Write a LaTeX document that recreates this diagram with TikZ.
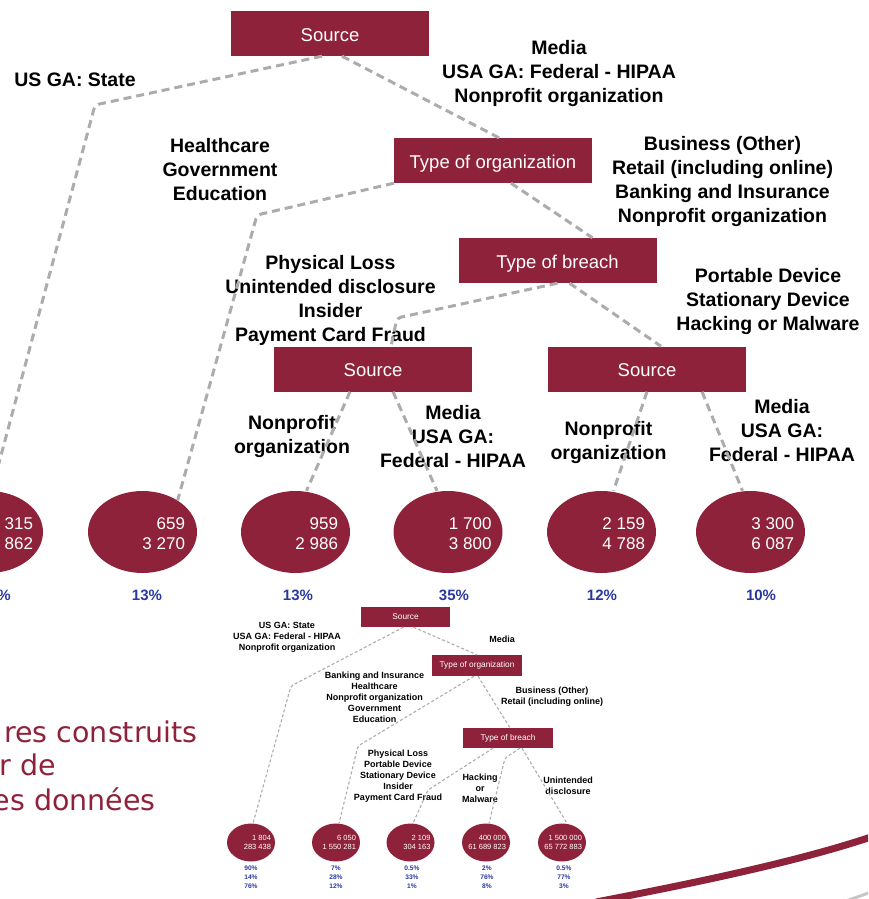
\documentclass[tikz,border=0pt]{standalone}
\usepackage{fontspec}
\setmainfont{Liberation Sans}
\newfontfamily\slidefont{DejaVu Sans}
\usetikzlibrary{shapes.geometric}
\definecolor{brick}{RGB}{142,34,58}
\definecolor{pctblue}{RGB}{40,56,160}
\definecolor{linkgray}{RGB}{172,172,172}
\begin{document}
\begin{tikzpicture}[x=1pt,y=-1pt,
  box/.style={fill=brick,text=white,minimum width=198pt,minimum height=45pt,inner sep=0pt,text height=16.5pt,text depth=1pt,font=\fontsize{18.5}{22}\selectfont},
  sbox/.style={fill=brick,text=white,minimum width=89pt,minimum height=20pt,inner sep=0pt,font=\fontsize{8.3}{10}\selectfont},
  leaf/.style={ellipse,fill=brick,minimum width=109pt,minimum height=82pt,inner sep=0pt},
  sleaf/.style={ellipse,fill=brick,minimum width=48pt,minimum height=38pt,inner sep=0pt},
  num/.style={text=white,align=right,anchor=east,inner sep=0pt,yshift=-1.5pt,font=\fontsize{17}{20}\selectfont},
  snum/.style={text=white,align=right,anchor=east,inner sep=0pt,font=\fontsize{7.5}{8.5}\selectfont},
  lbl/.style={align=center,inner sep=0pt,yshift=-2pt,font=\fontsize{19.5}{24}\selectfont\bfseries},
  slbl/.style={align=center,inner sep=0pt,font=\fontsize{9}{11}\selectfont\bfseries},
  pct/.style={text=pctblue,inner sep=0pt,font=\fontsize{15}{18}\selectfont\bfseries},
  spct/.style={text=pctblue,align=center,inner sep=0pt,font=\fontsize{6.6}{8.8}\selectfont\bfseries},
  link/.style={draw=linkgray,line width=3pt,dash pattern=on 8pt off 5pt,rounded corners=4pt},
  slink/.style={draw=linkgray,line width=1.1pt,dash pattern=on 3pt off 2.2pt,rounded corners=2pt},
  slide/.style={text=brick,anchor=base east,inner sep=0pt,font=\slidefont\fontsize{28.5}{34}\selectfont},
]
\useasboundingbox (0,0) rectangle (868,899);
\clip (0,0) rectangle (868,899);

% ---------- slide title fragment and decoration ----------
\node[slide] (t1) at (198,742) {res construits};
\node[slide] (t2) at (56,775) {r de};
\node[slide] (t3) at (156,810) {es données};
\draw[brick,line width=7pt] (596,902) .. controls (700,882) and (800,861) .. (874,836);
\draw[gray!45,line width=3pt] (846,901) -- (874,891);

% ---------- large tree ----------
\node[box] (src) at (330,33.5) {Source};
\node[box] (torg) at (493,160.5) {Type of organization};
\node[box] (tbr) at (557.5,260.5) {Type of breach};
\node[box] (s2) at (373,369) {Source};
\node[box] (s3) at (647,369) {Source};

\node[leaf] (e1) at (-11.5,532) {};
\node[leaf] (e2) at (142.5,532) {};
\node[leaf] (e3) at (295.5,532) {};
\node[leaf] (e4) at (448,532) {};
\node[leaf] (e5) at (601.5,532) {};
\node[leaf] (e6) at (750.5,532) {};

\node[num] (n1) at ([xshift=-10pt]e1.east) {315\\862};
\node[num] (n2) at ([xshift=-12pt]e2.east) {659\\3 270};
\node[num] (n3) at ([xshift=-12pt]e3.east) {959\\2 986};
\node[num] (n4) at ([xshift=-11pt]e4.east) {1 700\\3 800};
\node[num] (n5) at ([xshift=-11pt]e5.east) {2 159\\4 788};
\node[num] (n6) at ([xshift=-11pt]e6.east) {3 300\\6 087};

\node[pct,anchor=east] (p1) at (11,595) {\%};
\node[pct] (p2) at (147,595) {13\%};
\node[pct] (p3) at (298,595) {13\%};
\node[pct] (p4) at (454,595) {35\%};
\node[pct] (p5) at (602,595) {12\%};
\node[pct] (p6) at (761,595) {10\%};

\node[lbl] (l1) at (75,78) {US GA: State};
\node[lbl] (l2) at (559,72) {Media\\USA GA: Federal - HIPAA\\Nonprofit organization};
\node[lbl] (l3) at (220,167.5) {Healthcare\\Government\\Education};
\node[lbl] (l4) at (722.5,179.5) {Business (Other)\\Retail (including online)\\Banking and Insurance\\Nonprofit organization};
\node[lbl] (l5) at (330.5,298.5) {Physical Loss\\Unintended disclosure\\Insider\\Payment Card Fraud};
\node[lbl] (l6) at (768,299) {Portable Device\\Stationary Device\\Hacking or Malware};
\node[lbl] (l7) at (292,434.5) {Nonprofit\\organization};
\node[lbl] (l8) at (453,434.5) {Media\\USA GA:\\Federal - HIPAA};
\node[lbl] (l9) at (608.5,440) {Nonprofit\\organization};
\node[lbl] (l10) at (782,429) {Media\\USA GA:\\Federal - HIPAA};

\coordinate (c1) at (95,105);
\coordinate (c2) at (257,215);
\coordinate (c3) at (397,318);
\draw[link] ([xshift=-8pt]src.south) -- (c1) -- ([xshift=3pt]e1.north);
\draw[link] ([xshift=12pt]src.south) -- ([xshift=6pt]torg.north);
\draw[link] (torg.south west) -- (c2) -- (e2.42);
\draw[link] ([xshift=18pt]torg.south) -- ([xshift=35pt]tbr.north);
\draw[link] (tbr.south) -- (c3) -- ([xshift=18pt]s2.north);
\draw[link] ([xshift=12pt]tbr.south) -- ([xshift=14pt]s3.north);
\draw[link] ([xshift=-23pt]s2.south) -- ([xshift=11pt]e3.north);
\draw[link] ([xshift=20pt]s2.south) -- ([xshift=-11pt]e4.north);
\draw[link] (s3.south) -- ([xshift=12pt]e5.north);
\draw[link] ([xshift=55pt]s3.south) -- ([xshift=-8pt]e6.north);

% ---------- small tree ----------
\node[sbox] (ssrc) at (405.5,617) {Source};
\node[sbox,minimum width=90pt,minimum height=21pt] (storg) at (477,665.5) {Type of organization};
\node[sbox,minimum width=90pt] (stbr) at (508,738) {Type of breach};

\node[sleaf] (se1) at (251,842.5) {};
\node[sleaf] (se2) at (336,842.5) {};
\node[sleaf] (se3) at (410.5,842.5) {};
\node[sleaf] (se4) at (486,842.5) {};
\node[sleaf] (se5) at (562,842.5) {};

\node[snum] (sn1) at ([xshift=-4pt]se1.east) {1 804\\283 438};
\node[snum] (sn2) at ([xshift=-4pt]se2.east) {6 050\\1 550 281};
\node[snum] (sn3) at ([xshift=-4pt]se3.east) {2 109\\304 163};
\node[snum] (sn4) at ([xshift=-4pt]se4.east) {400 000\\61 689 823};
\node[snum] (sn5) at ([xshift=-4pt]se5.east) {1 500 000\\65 772 883};

\node[spct] (sp1) at (251,877.3) {90\%\\14\%\\76\%};
\node[spct] (sp2) at (336,877.3) {7\%\\28\%\\12\%};
\node[spct] (sp3) at (412,877.3) {0.5\%\\33\%\\1\%};
\node[spct] (sp4) at (487,877.3) {2\%\\76\%\\8\%};
\node[spct] (sp5) at (564,877.3) {0.5\%\\77\%\\3\%};

\node[slbl] (sl1) at (287,637) {US GA: State\\USA GA: Federal - HIPAA\\Nonprofit organization};
\node[slbl] (sl2) at (502,639) {Media};
\node[slbl] (sl3) at (374.5,697) {Banking and Insurance\\Healthcare\\Nonprofit organization\\Government\\Education};
\node[slbl] (sl4) at (552,697) {Business (Other)\\Retail (including online)};
\node[slbl] (sl5) at (398,776.3) {Physical Loss\\Portable Device\\Stationary Device\\Insider\\Payment Card Fraud};
\node[slbl] (sl6) at (480,788.3) {Hacking\\or\\Malware};
\node[slbl] (sl7) at (568,785.3) {Unintended\\disclosure};

\coordinate (sc1) at (291,686);
\coordinate (sc2) at (358,746);
\coordinate (sc3) at (428,790);
\coordinate (sc4) at (505,758);
\draw[slink] ([xshift=-2pt]ssrc.south) -- (sc1) -- ([xshift=2pt]se1.north);
\draw[slink] ([xshift=8pt]ssrc.south) -- (storg.north);
\draw[slink] ([xshift=-3pt]storg.south) -- (sc2) -- ([xshift=3pt]se2.north);
\draw[slink] ([xshift=1pt]storg.south) -- ([xshift=2pt]stbr.north);
\draw[slink] ([xshift=-15pt]stbr.south) -- (sc3) -- ([xshift=2.5pt]se3.north);
\draw[slink] ([xshift=12pt]stbr.south) -- (sc4) -- ([xshift=3pt]se4.north);
\draw[slink] ([xshift=14pt]stbr.south) -- ([xshift=5pt]se5.north);
\end{tikzpicture}
\end{document}
